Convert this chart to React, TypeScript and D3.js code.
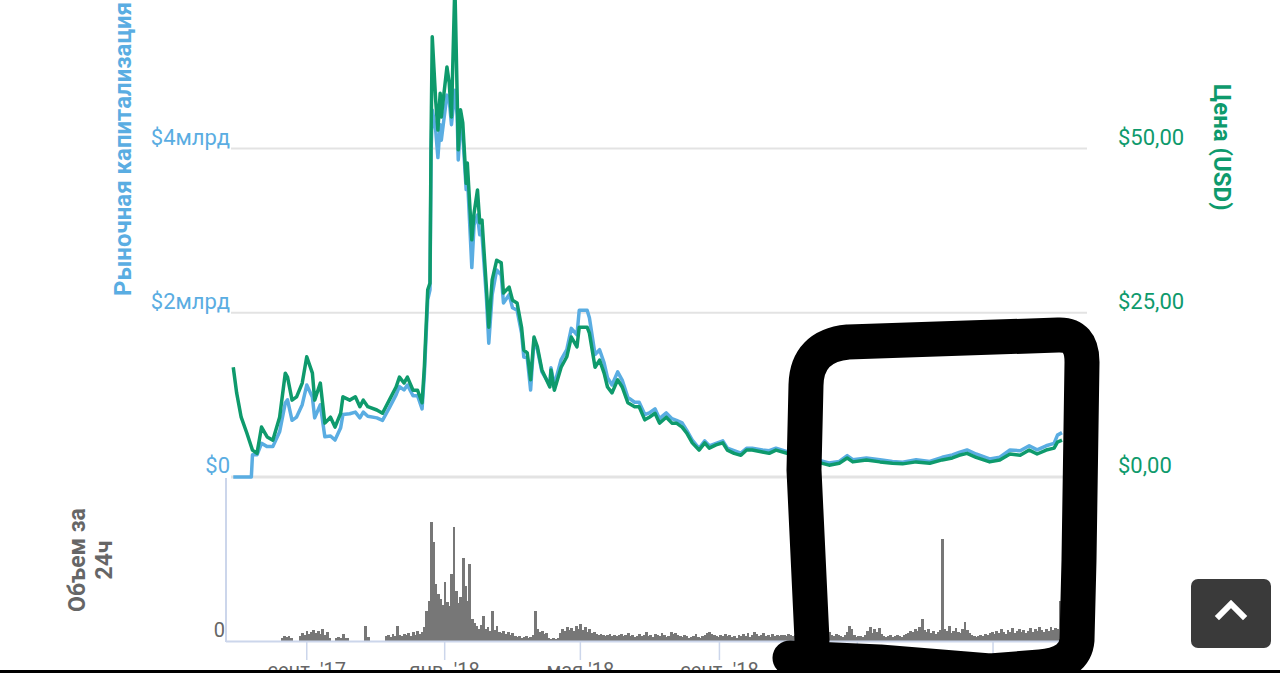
import React from 'react';
import * as d3 from 'd3';

const priceDates = [
  '2017-06-28','2017-07-01','2017-07-05','2017-07-10','2017-07-14','2017-07-15','2017-07-19','2017-07-23','2017-07-28','2017-08-02',
  '2017-08-08','2017-08-13','2017-08-15','2017-08-19','2017-08-23','2017-08-28','2017-09-01','2017-09-06','2017-09-08','2017-09-13',
  '2017-09-17','2017-09-22','2017-09-26','2017-10-01','2017-10-03','2017-10-09','2017-10-14','2017-10-18','2017-10-21','2017-10-25',
  '2017-11-02','2017-11-07','2017-11-13','2017-11-19','2017-11-22','2017-11-26','2017-11-29','2017-12-04','2017-12-08','2017-12-12',
  '2017-12-14','2017-12-17','2017-12-19','2017-12-20','2017-12-21','2017-12-24','2017-12-26','2017-12-28','2017-12-29','2018-01-03',
  '2018-01-05','2018-01-07','2018-01-10','2018-01-12','2018-01-13','2018-01-15','2018-01-17','2018-01-20','2018-01-21','2018-01-25',
  '2018-01-27','2018-01-30','2018-02-01','2018-02-03','2018-02-07','2018-02-09','2018-02-12','2018-02-16','2018-02-20','2018-02-22',
  '2018-02-27','2018-03-02','2018-03-06','2018-03-10','2018-03-12','2018-03-15','2018-03-18','2018-03-21','2018-03-24','2018-03-28',
  '2018-04-04','2018-04-05','2018-04-08','2018-04-14','2018-04-19','2018-04-23','2018-04-28','2018-04-30','2018-05-07','2018-05-09',
  '2018-05-14','2018-05-18','2018-05-22','2018-05-25','2018-05-29','2018-06-03','2018-06-07','2018-06-12','2018-06-18','2018-06-22',
  '2018-06-27','2018-07-01','2018-07-06','2018-07-10','2018-07-16','2018-07-21','2018-07-25','2018-07-30','2018-08-03','2018-08-08',
  '2018-08-14','2018-08-19','2018-08-23','2018-08-29','2018-09-04','2018-09-08','2018-09-14','2018-09-20','2018-09-25','2018-09-30',
  '2018-10-09','2018-10-15','2018-10-21','2018-11-02','2018-11-15','2018-11-26','2018-12-07','2018-12-16','2018-12-23','2018-12-28',
  '2019-01-09','2019-01-21','2019-02-01','2019-02-10','2019-02-22','2019-03-06','2019-03-17','2019-03-26','2019-04-01','2019-04-08',
  '2019-04-16','2019-04-28','2019-05-07','2019-05-16','2019-05-25','2019-06-02','2019-06-09','2019-06-17','2019-06-24','2019-06-27',
  '2019-07-01',
];

const priceUSD = [
  16.7,12.8,9.1,6.7,4.6,4.1,3.6,7.6,6.1,5.6,
  9.1,15.8,15.2,11.7,12.2,14.3,18.3,15.8,11.7,14.3,
  8.2,9.1,7.6,9.7,12.2,11.7,12.2,10.7,11.7,10.7,
  10.2,9.7,11.7,13.7,15.2,14.3,15.2,13.2,13.2,11.3,
  16.7,28.5,29.5,52.4,67.0,57.4,52.8,58.4,54.8,62.4,
  60.0,54.8,75.0,58.4,49.8,55.9,53.9,44.7,47.8,36.1,
  40.2,43.7,38.7,39.1,28.5,22.8,30.0,33.0,32.6,28.0,
  28.9,26.9,26.5,22.8,19.3,18.9,14.8,21.3,19.8,16.3,
  13.7,16.3,13.2,16.7,18.3,21.3,19.8,22.8,22.8,21.9,
  16.7,17.8,15.8,13.7,12.8,14.8,13.7,11.3,10.7,10.7,
  8.7,9.1,9.7,8.2,9.1,8.2,8.2,7.6,6.7,5.2,
  4.1,5.2,4.4,4.9,5.2,4.1,3.6,3.3,4.1,4.1,
  3.8,3.6,4.1,3.5,2.8,2.3,1.8,2.1,2.9,2.3,
  2.6,2.3,2.1,2.0,2.3,2.1,2.6,2.9,3.3,3.6,
  3.0,2.3,2.6,3.5,3.3,4.1,3.5,4.1,4.4,5.3,
  5.6,
];

const marketCapB = [
  0,0,0,0,0,0.27,0.27,0.41,0.37,0.37,
  0.55,0.90,0.94,0.69,0.73,0.88,1.12,0.97,0.72,0.88,
  0.49,0.50,0.45,0.60,0.76,0.77,0.79,0.72,0.79,0.74,
  0.72,0.69,0.84,1.00,1.10,1.06,1.12,0.99,0.99,0.83,
  1.24,2.16,2.28,3.98,4.47,4.23,3.89,4.29,4.10,4.65,
  4.59,4.29,4.71,4.41,3.86,4.29,4.17,3.50,3.68,2.55,
  3.07,3.19,2.95,2.95,2.16,1.63,2.22,2.52,2.46,2.12,
  2.22,2.06,2.03,1.75,1.46,1.45,1.06,1.67,1.55,1.28,
  1.12,1.33,1.12,1.43,1.55,1.81,1.73,2.03,2.03,1.94,
  1.49,1.55,1.39,1.21,1.12,1.28,1.18,0.97,0.91,0.91,
  0.76,0.78,0.83,0.71,0.78,0.71,0.69,0.66,0.57,0.45,
  0.35,0.44,0.38,0.41,0.44,0.35,0.32,0.29,0.35,0.35,
  0.33,0.32,0.35,0.30,0.24,0.21,0.17,0.19,0.26,0.21,
  0.23,0.21,0.19,0.18,0.21,0.19,0.24,0.27,0.30,0.33,
  0.28,0.22,0.24,0.33,0.32,0.38,0.33,0.38,0.41,0.51,
  0.54,
];

// 24h volume, one value per two-day bin starting at volumeStart (arbitrary $M units)
const volumeStart = '2017-06-26';
const volume2d = [
  0,0,0,0,0,0,0,0,0,0,
  0,0,0,0,0,0,0,0,0,0,
  0,0,3,5,4,5,3,0,0,0,
  5,8,6,10,7,9,11,8,10,7,
  12,6,9,3,0,0,3,4,3,7,
  3,3,0,0,0,0,0,0,0,15,
  4,0,0,0,0,0,0,0,5,6,
  4,7,5,15,6,5,7,6,8,5,
  9,6,10,7,9,14,30,40,119,99,
  57,47,42,36,59,39,35,67,114,50,
  38,44,83,55,40,77,22,18,15,12,
  16,25,12,14,10,30,11,15,9,8,
  10,7,9,6,8,5,4,5,3,4,
  5,3,4,6,30,12,9,10,7,8,
  3,2,3,2,3,8,12,10,14,11,
  13,10,15,12,17,11,14,9,12,8,
  9,7,6,7,6,5,6,7,5,6,
  5,6,7,5,6,8,5,6,4,5,
  7,5,6,9,5,6,4,7,6,5,
  8,6,4,5,9,7,8,6,5,4,
  6,5,3,4,5,7,4,3,5,6,
  8,9,7,6,5,4,6,5,7,5,
  6,4,5,3,6,5,7,5,8,4,
  6,9,7,5,6,8,5,6,4,7,
  5,6,5,6,6,5,7,6,5,6,
  7,5,6,7,5,6,7,6,5,7,
  6,5,8,6,9,6,5,7,6,5,
  4,6,9,15,12,6,4,5,5,4,
  6,10,14,8,12,9,13,7,5,4,
  5,6,4,5,6,5,4,6,7,8,
  10,9,12,10,14,22,11,9,12,8,
  10,7,9,11,102,12,10,15,8,10,
  13,9,8,12,19,11,8,6,5,4,
  5,6,5,7,6,8,9,7,10,8,
  12,9,7,11,9,13,8,10,12,9,
  11,8,10,13,9,12,10,14,11,9,
  12,10,14,11,13,12,40,
];

const capTicks = [0, 2, 4];
const capTickLabels = ['$0', '$2млрд', '$4млрд'];
const priceTicks = [0, 25, 50];
const priceTickLabels = ['$0,00', '$25,00', '$50,00'];
const xTickDates = ['2017-09-01', '2018-01-01', '2018-05-01', '2018-09-01', '2019-01-01', '2019-05-01'];
const xTickLabels = ["сент. '17", "янв. '18", "мая '18", "сент. '18", "янв. '19", "мая '19"];

const BLUE = '#5aade2';
const GREEN = '#0e9a6c';
const FONT = 'Roboto, "Noto Sans", sans-serif';

export default function App() {
  const parse = d3.timeParse('%Y-%m-%d');
  const dates = priceDates.map((s) => parse(s) as Date);
  const x = d3
    .scaleTime()
    .domain([parse('2017-06-26') as Date, parse('2019-07-01') as Date])
    .range([231, 1062]);
  const yCap = d3.scaleLinear().domain([0, 4]).range([477, 148.5]);
  const yPrice = d3.scaleLinear().domain([0, 50]).range([477, 148.5]);
  const yVol = d3.scaleLinear().domain([0, 120]).range([641, 521]);

  const capLine = d3
    .line<number>()
    .x((_, i) => x(dates[i]))
    .y((d) => yCap(d));
  const priceLine = d3
    .line<number>()
    .x((_, i) => x(dates[i]))
    .y((d) => yPrice(d));

  const vStart = parse(volumeStart) as Date;
  const bars = volume2d.map((v, i) => {
    const d0 = d3.timeDay.offset(vStart, i * 2);
    const d1 = d3.timeDay.offset(vStart, i * 2 + 2);
    return { x0: x(d0), x1: x(d1), v };
  });

  const annotation =
    'M 812 640 L 804 470 L 806 385 Q 807 346 848 342 L 1058 335 Q 1082 334 1082 362 L 1079 560 L 1077 640 Q 1075 664 1040 667 L 990 671 Q 940 667 880 662 L 790 658';

  return (
    <svg
      width={1280}
      height={673}
      viewBox="0 0 1280 673"
      style={{ position: 'absolute', left: 0, top: 0, display: 'block', background: '#fff' }}
      fontFamily={FONT}
    >
      <rect x={0} y={0} width={1280} height={673} fill="#fff" />
      {/* grid lines */}
      {capTicks.map((t) => (
        <line key={'g' + t} x1={231} x2={1087} y1={yCap(t)} y2={yCap(t)} stroke="#e3e3e3" strokeWidth={t === 0 ? 3 : 2} />
      ))}
      {/* left axis labels */}
      {capTicks.map((t, i) => (
        <text key={'lc' + t} x={230} y={yCap(t) - 4} textAnchor="end" fontSize={22} fill={BLUE}>
          {capTickLabels[i]}
        </text>
      ))}
      {/* right axis labels */}
      {priceTicks.map((t, i) => (
        <text key={'rp' + t} x={1118} y={yPrice(t) - 4} textAnchor="start" fontSize={22} fill={GREEN}>
          {priceTickLabels[i]}
        </text>
      ))}
      {/* axis titles */}
      <text transform="translate(131,296) rotate(-90)" fontSize={24} fontWeight="bold" fill={BLUE}>
        Рыночная капитализация
      </text>
      <text transform="translate(1214,84) rotate(90)" fontSize={24} fontWeight="bold" fill={GREEN}>
        Цена (USD)
      </text>
      <text transform="translate(85,560) rotate(-90)" fontSize={23} fontWeight="bold" fill="#666" textAnchor="middle">
        Объем за
      </text>
      <text transform="translate(112,560) rotate(-90)" fontSize={23} fontWeight="bold" fill="#666" textAnchor="middle">
        24ч
      </text>

      {/* lines */}
      <path d={capLine(marketCapB) || ''} fill="none" stroke={BLUE} strokeWidth={3.5} strokeLinejoin="round" />
      <path d={priceLine(priceUSD) || ''} fill="none" stroke={GREEN} strokeWidth={3.5} strokeLinejoin="round" />

      {/* volume */}
      <line x1={226} x2={226} y1={478} y2={642} stroke="#ccd6eb" strokeWidth={2} />
      <g shapeRendering="crispEdges">
        {bars.map((b, i) =>
          b.v > 0 ? (
            <rect key={'v' + i} x={b.x0} y={yVol(b.v)} width={b.x1 - b.x0 + 0.6} height={641 - yVol(b.v)} fill="#777" />
          ) : null
        )}
      </g>
      <line x1={226} x2={1062} y1={641.5} y2={641.5} stroke="#ccd6eb" strokeWidth={2} />
      <text x={225} y={637} textAnchor="end" fontSize={20} fill="#666">
        0
      </text>
      {xTickDates.map((s, i) => {
        const xx = x(parse(s) as Date);
        return (
          <g key={'xt' + i}>
            <line x1={xx} x2={xx} y1={642} y2={660} stroke="#ccd6eb" strokeWidth={1.5} />
            <text x={xx} y={677} textAnchor="middle" fontSize={20} fill="#666">
              {xTickLabels[i]}
            </text>
          </g>
        );
      })}

      {/* hand-drawn annotation */}
      <path d={annotation} fill="none" stroke="#000" strokeWidth={35} strokeLinejoin="round" strokeLinecap="round" />
      {/* bottom bar */}
      <rect x={0} y={670} width={1280} height={3} fill="#000" />

      {/* scroll-to-top button */}
      <rect x={1191} y={579} width={80} height={69} rx={7} fill="#3a3a3a" />
      <polyline points="1219,616 1231,604 1243,616" fill="none" stroke="#fff" strokeWidth={6} strokeLinecap="square" />
    </svg>
  );
}
